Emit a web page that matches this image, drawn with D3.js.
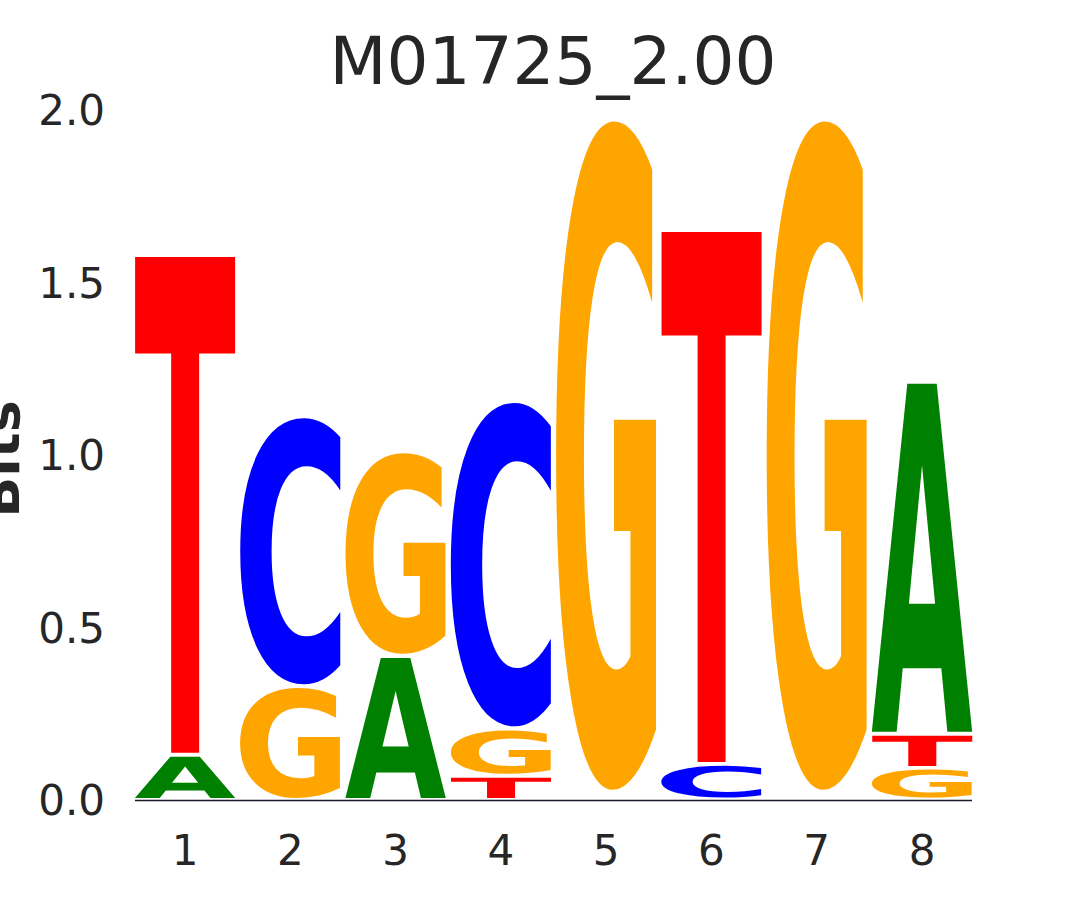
<!DOCTYPE html>
<html>
<head>
<meta charset="utf-8">
<script src="https://cdn.jsdelivr.net/npm/d3@7"></script>
<style>
  body { margin: 0; background: #fff; }
  text { font-family: "DejaVu Sans", sans-serif; }
</style>
</head>
<body>
<div id="chart"></div>
<script>
// logo data (bits per base at each position)
const positions = [1, 2, 3, 4, 5, 6, 7, 8];
const bases = ["A", "C", "G", "T"];
const bitsA = [0.131, 0, 0.418, 0, 0.008, 0, 0.008, 1.022];
const bitsC = [0, 0.782, 0, 0.948, 0.008, 0.104, 0.008, 0];
const bitsG = [0, 0.330, 0.593, 0.137, 1.948, 0, 1.948, 0.093];
const bitsT = [1.451, 0, 0, 0.071, 0.008, 1.550, 0.008, 0.099];
const yTicks = [0, 0.5, 1.0, 1.5, 2.0];
const title = "M01725_2.00";

const colors = { A: "#008000", C: "#0000ff", G: "#ffa500", T: "#ff0000" };
const byBase = { A: bitsA, C: bitsC, G: bitsG, T: bitsT };

const width = 1080, height = 900;
const glyphWidth = 0.95, pad = 2, fontPx = 500;

const x = d3.scaleLinear().domain([0.5, 8.5]).range([132.35, 974.65]);
const y = d3.scaleLinear().domain([0, 2]).range([800, 110]);

const svg = d3.select("#chart").append("svg")
  .attr("width", width).attr("height", height);

// tight ink bounds of each glyph: draw it on a canvas and scan the pixels
const cw = 1000, ch = 1000, bx = 200, by = 800;
const canvas = document.createElement("canvas");
canvas.width = cw; canvas.height = ch;
const ctx = canvas.getContext("2d");
const ink = {};
bases.forEach(b => {
  ctx.clearRect(0, 0, cw, ch);
  ctx.font = `bold ${fontPx}px 'DejaVu Sans'`;
  ctx.fillStyle = "#000";
  ctx.fillText(b, bx, by);
  const px = ctx.getImageData(0, 0, cw, ch).data;
  let l = cw, r = 0, t = ch, btm = 0;
  for (let j = 0; j < ch; j++) {
    for (let i = 0; i < cw; i++) {
      if (px[(j * cw + i) * 4 + 3] > 127) {
        if (i < l) l = i;
        if (i > r) r = i;
        if (j < t) t = j;
        if (j > btm) btm = j;
      }
    }
  }
  ink[b] = { left: l - bx, right: r + 1 - bx, top: t - by, bottom: btm + 1 - by };
});

// stack letters, smallest at bottom
const stacks = [];
positions.forEach((p, i) => {
  const col = bases.map(b => ({ base: b, v: byBase[b][i] }))
    .filter(d => d.v > 0)
    .sort((a, b) => a.v - b.v);
  let floor = 0;
  col.forEach(d => {
    stacks.push({ pos: p, base: d.base, y0: floor, y1: floor + d.v });
    floor += d.v;
  });
});

// letters too thin to show are left out (they still take stack room)
const shown = stacks.filter(d => y(d.y0) - y(d.y1) > 2 * pad + 1);

svg.append("g").selectAll("text")
  .data(shown)
  .enter().append("text")
  .attr("font-family", "DejaVu Sans")
  .attr("font-weight", "bold")
  .attr("font-size", fontPx)
  .attr("text-rendering", "geometricPrecision")
  .attr("fill", d => colors[d.base])
  .attr("transform", d => {
    const g = ink[d.base];
    const x0 = x(d.pos - glyphWidth / 2), x1 = x(d.pos + glyphWidth / 2);
    const top = y(d.y1) + pad, bot = y(d.y0) - pad;
    const sx = (x1 - x0) / (g.right - g.left);
    const sy = (bot - top) / (g.bottom - g.top);
    return `translate(${x0},${top}) scale(${sx},${sy}) translate(${-g.left},${-g.top})`;
  })
  .text(d => d.base);

// baseline
svg.append("line")
  .attr("x1", x(1 - glyphWidth / 2)).attr("x2", x(8 + glyphWidth / 2))
  .attr("y1", y(0) + 0.5).attr("y2", y(0) + 0.5)
  .attr("stroke", "#1a1a2a").attr("stroke-width", 1.5);

// axes (no spines, no tick marks)
svg.append("g")
  .selectAll("text")
  .data(yTicks)
  .enter().append("text")
  .attr("x", 105)
  .attr("y", d => y(d))
  .attr("dy", "0.36em")
  .attr("text-anchor", "end")
  .attr("font-size", 42)
  .attr("fill", "#262626")
  .text(d => d.toFixed(1));

svg.append("g")
  .selectAll("text")
  .data(positions)
  .enter().append("text")
  .attr("x", d => x(d))
  .attr("y", 850)
  .attr("dy", "0.36em")
  .attr("text-anchor", "middle")
  .attr("font-size", 42)
  .attr("fill", "#262626")
  .text(d => d);

svg.append("text")
  .attr("transform", `translate(19,459) rotate(-90)`)
  .attr("text-anchor", "middle")
  .attr("font-size", 54)
  .attr("font-weight", "bold")
  .attr("fill", "#262626")
  .text("Bits");

svg.append("text")
  .attr("x", 553)
  .attr("y", 84)
  .attr("text-anchor", "middle")
  .attr("font-size", 66)
  .attr("fill", "#262626")
  .text(title);
</script>
</body>
</html>
